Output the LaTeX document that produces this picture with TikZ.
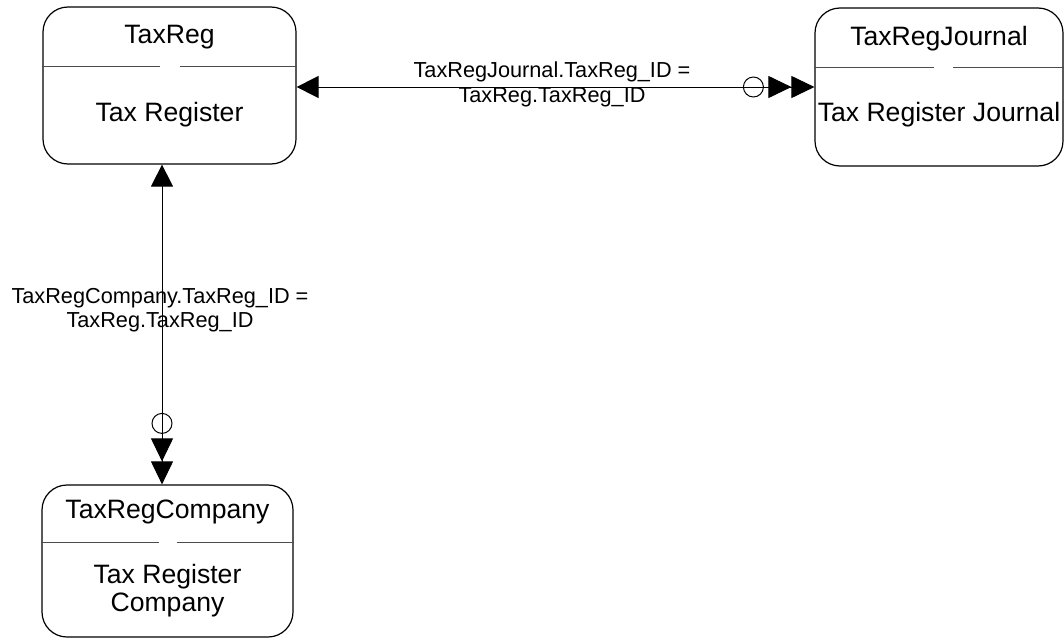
\documentclass[tikz,border=0pt]{standalone}
\usepackage{fontspec}
\setmainfont{Liberation Sans}
\usetikzlibrary{arrows.meta,calc}
\tikzset{
  entity/.style={draw, line width=1.2pt, rounded corners=25pt, inner sep=0pt},
  etitle/.style={inner sep=0pt, font=\fontsize{26.6pt}{29pt}\selectfont},
  ebody/.style={inner sep=0pt, align=center, font=\fontsize{26.6pt}{28pt}\selectfont},
  sepline/.style={draw=black!70, line width=1pt},
  conn/.style={draw, line width=1pt},
  lbl/.style={inner sep=0pt, align=center, font=\fontsize{21.7pt}{24.5pt}\selectfont},
  tipone/.tip={Triangle[length=22pt,width=22pt]},
  tiptwo/.tip={Triangle[length=23pt,width=22pt,sep=0pt]Triangle[length=23pt,width=22pt]}
}
\begin{document}
\begin{tikzpicture}[x=1pt,y=-1pt]
\useasboundingbox (0,0) rectangle (1064,642);

% TaxReg
\node[entity, minimum width=253pt, minimum height=157pt] (taxreg) at (169.5,85.5) {};
\node[etitle] (taxregT) at ($(taxreg.north)+(0,31)$) {TaxReg};
\node[ebody] (taxregB) at ($(taxreg.north)+(0,108)$) {Tax Register};
\coordinate (taxregS) at ($(taxreg.north)+(0,60)$);
\draw[sepline] (taxregS -| taxreg.west) -- ($(taxregS)+(-10,0)$);
\draw[sepline] ($(taxregS)+(10,0)$) -- (taxregS -| taxreg.east);

% TaxRegJournal
\node[entity, minimum width=248pt, minimum height=158pt] (journal) at (939,87) {};
\node[etitle] (journalT) at ($(journal.north)+(0,31)$) {TaxRegJournal};
\node[ebody] (journalB) at ($(journal.north)+(0,107)$) {Tax Register Journal};
\coordinate (journalS) at ($(journal.north)+(0,60)$);
\draw[sepline] (journalS -| journal.west) -- ($(journalS)+(-5,0)$);
\draw[sepline] ($(journalS)+(14,0)$) -- (journalS -| journal.east);

% TaxRegCompany
\node[entity, minimum width=251pt, minimum height=152pt] (company) at (167.5,561) {};
\node[etitle] (companyT) at ($(company.north)+(0,28)$) {TaxRegCompany};
\node[ebody] (companyB) at ($(company.north)+(0,106)$) {Tax Register\\Company};
\coordinate (companyS) at ($(company.north)+(0,58)$);
\draw[sepline] (companyS -| company.west) -- ($(companyS)+(-9,0)$);
\draw[sepline] ($(companyS)+(9,0)$) -- (companyS -| company.east);

% TaxReg -- TaxRegJournal
\draw[conn, {tipone}-{tiptwo}] (taxreg.east |- journal.west) -- (journal.west);
\draw[conn] ($(journal.west)+(-61,0)$) circle[radius=10pt];
\node[lbl] (lbl1) at (552,84.5) {TaxRegJournal.TaxReg\_ID =\\TaxReg.TaxReg\_ID};

% TaxReg -- TaxRegCompany
\coordinate (vx) at (162,300);
\draw[conn, {tipone}-{tiptwo}] (taxreg.south -| vx) -- (company.north -| vx);
\draw[conn] ($(company.north -| vx)+(0,-61)$) circle[radius=10pt];
\node[lbl] (lbl2) at (160,310) {TaxRegCompany.TaxReg\_ID =\\TaxReg.TaxReg\_ID};
\end{tikzpicture}
\end{document}
